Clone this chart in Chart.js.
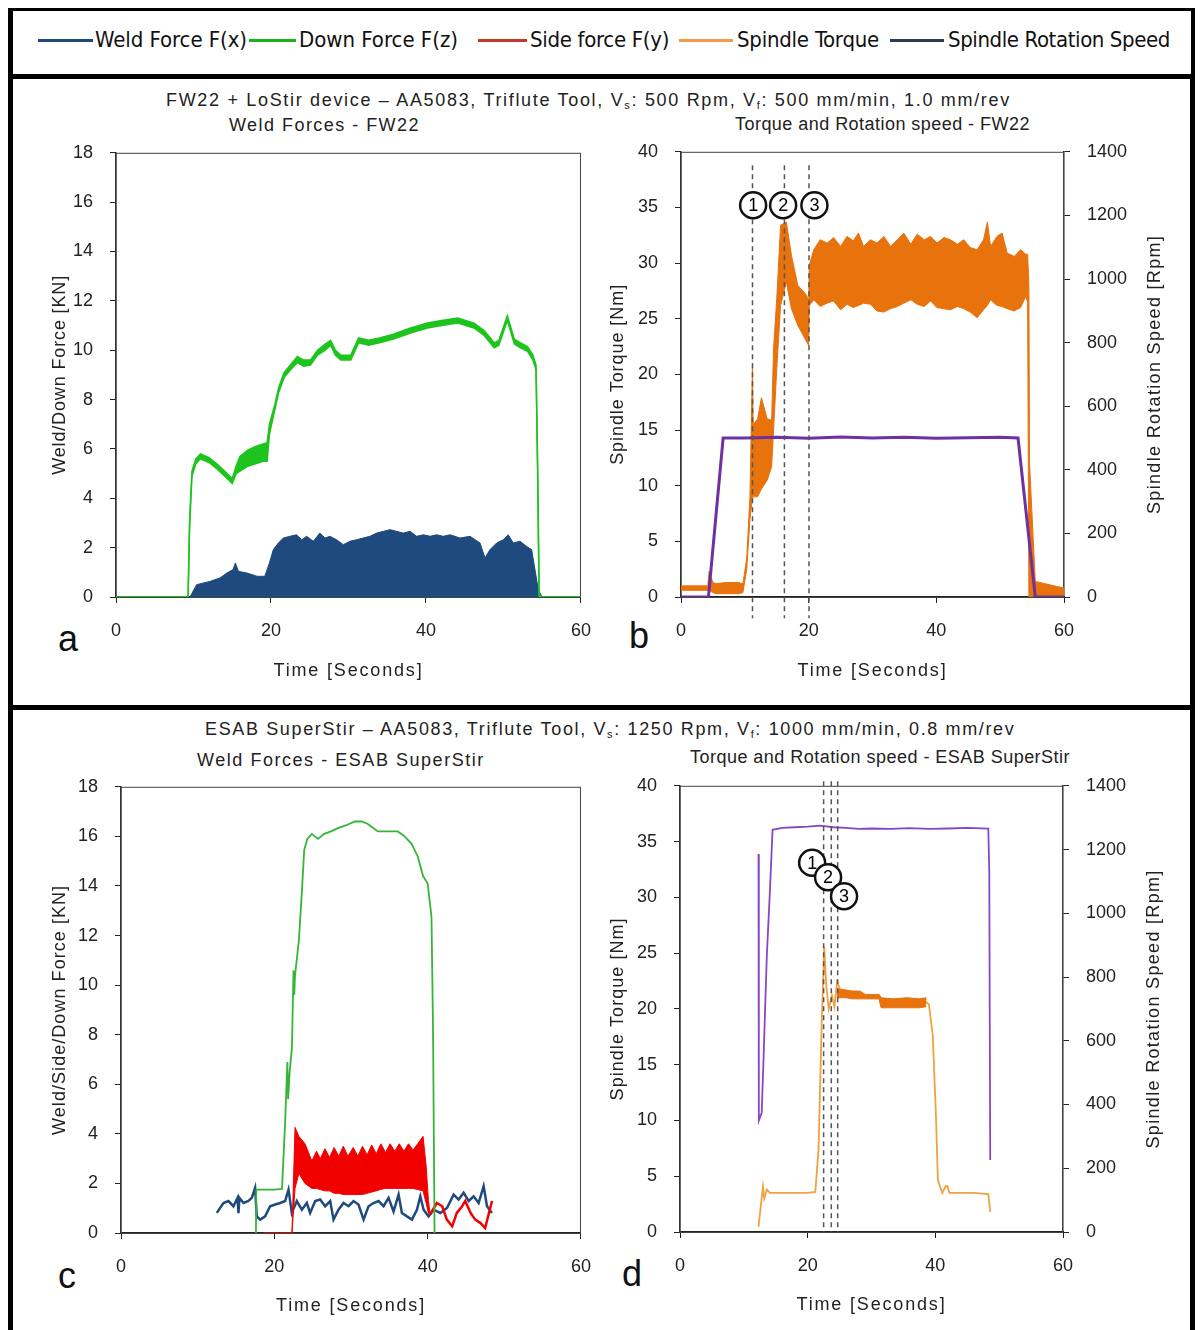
<!DOCTYPE html>
<html>
<head>
<meta charset="utf-8">
<title>Weld forces, torque and rotation speed</title>
<script src="https://cdn.jsdelivr.net/npm/chart.js@4.4.1/dist/chart.umd.min.js"></script>
<style>
  html, body { margin: 0; padding: 0; background: #fff; }
  body { position: relative; width: 1203px; height: 1330px; overflow: hidden;
         font-family: "Liberation Sans", Arial, sans-serif; color: #222; }
  .box { position: absolute; border: 5px solid #000; box-sizing: border-box; }
  .txt { position: absolute; white-space: nowrap; line-height: 1; }
  .ttl { font-size: 18px; }
  .tag { font-size: 36px; color: #111; }
  .lg { position: absolute; white-space: nowrap; line-height: 1; font-size: 22px; color: #111;
        font-family: "Liberation Sans Narrow", "DejaVu Sans Condensed", "Liberation Sans", sans-serif; }
  .sw { position: absolute; height: 3px; }
  sub { font-size: 11px; vertical-align: -3px; line-height: 0; }
  canvas { position: absolute; }
</style>
</head>
<body>
<div class="box" style="left:8px;top:8px;width:1187px;height:70px;border-width:3px 4px 4px 5px"></div>
<div class="box" style="left:8px;top:74px;width:1187px;height:636px"></div>
<div class="box" style="left:8px;top:705px;width:1187px;height:700px"></div>

<div class="txt ttl" data-x="166" data-cy="100" data-w="845">FW22 + LoStir device – AA5083, Triflute Tool, V<sub>s</sub>: 500 Rpm, V<sub>f</sub>: 500 mm/min, 1.0 mm/rev</div>
<div class="txt ttl" data-x="229" data-cy="125" data-w="191">Weld Forces - FW22</div>
<div class="txt ttl" data-x="735" data-cy="124" data-w="295">Torque and Rotation speed - FW22</div>
<div class="txt ttl" data-x="205" data-cy="729" data-w="810">ESAB SuperStir – AA5083, Triflute Tool, V<sub>s</sub>: 1250 Rpm, V<sub>f</sub>: 1000 mm/min, 0.8 mm/rev</div>
<div class="txt ttl" data-x="197" data-cy="760" data-w="288">Weld Forces - ESAB SuperStir</div>
<div class="txt ttl" data-x="690" data-cy="757" data-w="380">Torque and Rotation speed - ESAB SuperStir</div>
<div class="txt tag" data-x="58" data-cy="639">a</div>
<div class="txt tag" data-x="629" data-cy="636">b</div>
<div class="txt tag" data-x="58" data-cy="1276">c</div>
<div class="txt tag" data-x="622" data-cy="1274">d</div>

<canvas id="cA"></canvas>
<canvas id="cB"></canvas>
<canvas id="cC"></canvas>
<canvas id="cD"></canvas>

<script>
// ---------------- values ----------------
const xTicks = [0, 20, 40, 60];
const forceTicks = [0, 2, 4, 6, 8, 10, 12, 14, 16, 18];
const torqueTicks = [0, 5, 10, 15, 20, 25, 30, 35, 40];
const rpmTicks = [0, 200, 400, 600, 800, 1000, 1200, 1400];

const legendLabels = ['Weld Force F(x)', 'Down Force F(z)', 'Side force F(y)', 'Spindle Torque', 'Spindle Rotation Speed'];

// (a) FW22 forces [kN] vs time [s]
const fwTime   = [0, 9.3, 9.5, 9.8, 10.3, 10.9, 12.0, 13.0, 14.0, 15.0, 15.5, 16.0, 17.0, 18.0, 19.0, 19.5, 19.8, 20.5, 21.0, 21.7, 22.5, 23.4, 24.2, 25.1, 26.0, 27.0, 27.7, 28.3, 29.0, 30.3, 31.3, 32.6, 34.0, 35.8, 38.0, 40.2, 42.0, 44.1, 46.2, 47.5, 48.8, 49.4, 50.5, 51.4, 52.2, 53.1, 53.8, 54.2, 54.4, 54.6, 55.0, 60];
const fwDownLo = [0, 0, 2.9, 4.9, 5.4, 5.6, 5.45, 5.2, 4.9, 4.6, 5.0, 5.1, 5.3, 5.4, 5.5, 5.5, 6.6, 7.6, 8.3, 8.9, 9.2, 9.5, 9.35, 9.4, 9.8, 10.0, 10.2, 9.8, 9.6, 9.6, 10.3, 10.2, 10.3, 10.45, 10.7, 10.9, 11.0, 11.1, 10.9, 10.6, 10.1, 10.2, 11.2, 10.25, 10.1, 9.95, 9.6, 9.2, 5.2, 0, 0, 0];
const fwDownHi = [0, 0, 3.1, 5.1, 5.6, 5.8, 5.65, 5.4, 5.1, 4.8, 5.3, 5.7, 5.95, 6.1, 6.2, 6.25, 7.0, 7.8, 8.5, 9.1, 9.4, 9.75, 9.6, 9.6, 10.0, 10.25, 10.4, 10.0, 9.8, 9.8, 10.5, 10.4, 10.5, 10.65, 10.9, 11.1, 11.2, 11.3, 11.1, 10.8, 10.3, 10.4, 11.4, 10.45, 10.3, 10.15, 9.8, 9.4, 5.4, 0.1, 0, 0];
const fwWeldTime = [9.55, 10.4, 12.1, 13.4, 14.3, 15.1, 15.4, 15.8, 16.9, 18.2, 19.2, 19.8, 20.3, 20.95, 21.6, 22.45, 23.3, 23.96, 24.6, 25.46, 26.3, 26.97, 27.6, 28.47, 29.33, 30.2, 31.05, 31.9, 32.77, 33.63, 34.5, 35.35, 36.2, 37.08, 37.94, 38.8, 39.66, 40.52, 41.38, 42.24, 43.1, 44.39, 45.68, 46.97, 47.61, 48.26, 49.12, 49.98, 50.62, 51.27, 52.13, 52.99, 53.63, 54.06, 54.49, 54.92];
const fwWeld     = [0, 0.5, 0.63, 0.77, 0.97, 1.11, 1.38, 1.04, 0.97, 0.84, 0.84, 1.38, 1.92, 2.19, 2.39, 2.46, 2.52, 2.32, 2.46, 2.26, 2.59, 2.39, 2.46, 2.32, 2.12, 2.26, 2.32, 2.39, 2.46, 2.59, 2.66, 2.73, 2.66, 2.59, 2.66, 2.46, 2.52, 2.46, 2.52, 2.46, 2.52, 2.39, 2.46, 2.19, 1.58, 1.92, 2.19, 2.32, 2.52, 2.19, 2.26, 2.05, 1.92, 1.11, 0.30, 0.03];

// (b) FW22 torque [Nm] band and rotation speed [rpm]
const fwTqTime = [0, 4.2, 4.4, 5.0, 5.5, 7.0, 9.0, 9.7, 10.3, 10.8, 11.2, 11.3, 12.0, 12.6, 13.5, 14.2, 14.5, 15.0, 15.6, 16.5, 17.3, 18.3, 19.7, 20.0, 20.1, 20.8, 21.8, 22.9, 23.9, 25.0, 26.0, 27.0, 27.8, 28.6, 29.7, 30.7, 31.8, 32.8, 33.9, 34.9, 36.0, 37.0, 38.1, 39.1, 40.1, 41.2, 42.2, 43.3, 44.3, 45.3, 46.4, 47.4, 48.0, 48.5, 49.5, 50.3, 51.1, 52.2, 53.2, 54.0, 54.3, 54.5, 54.6, 55.5, 57.0, 60];
const fwTqLo   = [0.6, 0.6, 0.6, 0.4, 0.3, 0.3, 0.3, 0.4, 2.5, 7.0, 9.0, 9.0, 9.0, 9.7, 10.5, 11.7, 15.0, 20.5, 26.2, 28.3, 25.9, 24.4, 22.9, 22.6, 26.2, 26.7, 26.1, 26.4, 26.6, 25.8, 26.3, 26.0, 26.2, 26.4, 26.3, 25.7, 25.6, 25.9, 26.1, 26.4, 26.7, 26.3, 26.1, 26.6, 26.0, 25.9, 25.8, 26.1, 25.9, 25.6, 25.1, 25.8, 26.2, 26.7, 26.2, 26.1, 25.9, 25.7, 26.0, 27.0, 26.5, 0, 0, 0.1, 0.1, 0.1];
const fwTqHi   = [1.0, 1.0, 2.3, 1.3, 1.2, 1.3, 1.3, 1.2, 3.5, 9.0, 21.0, 15.5, 16.0, 17.9, 16.0, 15.9, 22.3, 26.8, 33.4, 33.7, 30.7, 28.0, 27.1, 26.5, 29.8, 31.2, 32.1, 31.8, 32.3, 31.5, 32.4, 32.0, 32.7, 31.5, 32.1, 31.8, 32.4, 31.5, 32.1, 32.7, 31.7, 32.6, 32.1, 32.4, 31.8, 32.3, 32.1, 31.7, 32.1, 31.4, 31.2, 32.1, 33.7, 31.5, 32.4, 32.7, 30.9, 30.6, 31.2, 30.8, 30.8, 28.0, 12.0, 1.4, 1.2, 0.8];
const fwRpmTime = [0, 4.3, 6.6, 10, 15, 20, 25, 30, 35, 40, 45, 50, 52.8, 55.5, 60];
const fwRpm     = [0, 0, 500, 500, 502, 499, 503, 500, 502, 499, 501, 502, 500, 0, 0];
const fwMarks   = [11.2, 16.2, 20.05];           // dashed stage lines [s]
const fwCircleT = [11.3, 16.0, 20.9];
const fwCircleY = [35.2, 35.2, 35.2];
const stageLabels = ['1', '2', '3'];

// (c) ESAB SuperStir forces [kN]
const esDownTime = [17.6, 17.65, 18, 19, 20, 21.0, 21.4, 21.7, 21.8, 22.0, 22.3, 22.5, 22.6, 22.7, 23.2, 23.6, 23.9, 24.3, 24.9, 25.7, 26.5, 27.4, 28.3, 29.4, 30.5, 31.4, 32.2, 33.5, 34.8, 36.1, 37.0, 37.9, 38.7, 39.4, 40.0, 40.5, 40.7, 40.9];
const esDown     = [0, 1.75, 1.75, 1.75, 1.75, 1.78, 4.4, 6.9, 5.4, 6.5, 7.5, 10.6, 9.6, 10.4, 11.8, 13.8, 15.45, 15.9, 16.1, 15.9, 16.1, 16.2, 16.33, 16.45, 16.6, 16.6, 16.5, 16.2, 16.2, 16.2, 16.0, 15.7, 15.2, 14.4, 14.1, 12.75, 8.2, 0];
const esSideTime = [18.6, 22.3, 22.7, 23.2, 24.0, 24.9, 25.5, 26.0, 26.6, 27.2, 27.8, 28.4, 29.0, 29.6, 30.3, 30.9, 31.5, 32.1, 32.7, 33.3, 33.9, 34.5, 35.1, 35.7, 36.3, 36.9, 37.5, 38.1, 38.7, 39.4, 39.8, 40.1, 40.3];
const esSideLo   = [0, 0, 1.8, 2.4, 2.0, 1.8, 1.8, 1.75, 1.7, 1.7, 1.6, 1.6, 1.55, 1.55, 1.55, 1.55, 1.55, 1.6, 1.65, 1.7, 1.76, 1.8, 1.8, 1.8, 1.8, 1.8, 1.8, 1.8, 1.75, 1.7, 1.2, 0.8, 0.74];
const esSideHi   = [0, 0, 4.26, 3.9, 3.6, 2.9, 3.3, 3.0, 3.4, 3.05, 3.45, 3.1, 3.5, 3.1, 3.45, 3.1, 3.5, 3.15, 3.55, 3.2, 3.6, 3.25, 3.6, 3.3, 3.6, 3.3, 3.6, 3.35, 3.6, 3.9, 2.7, 1.3, 0.8];
const esSideTailTime = [40.3, 41.2, 41.9, 42.5, 43.2, 43.8, 44.5, 44.9, 45.6, 46.2, 46.9, 47.5, 48.0, 48.4];
const esSideTail     = [0.74, 1.21, 1.08, 0.54, 0.27, 0.81, 1.08, 1.29, 0.81, 0.54, 0.4, 0.2, 0.81, 1.29];
const esWeldTime = [12.49, 13.36, 14.01, 14.67, 15.2, 15.32, 15.45, 15.97, 16.62, 17.06, 17.49, 17.71, 18.15, 18.8, 19.45, 20.11, 20.76, 21.41, 21.85, 22.28, 22.93, 23.59, 24.24, 24.67, 25.33, 25.98, 26.63, 27.29, 27.72, 28.37, 29.03, 29.68, 30.33, 30.98, 31.64, 32.29, 32.94, 33.6, 34.25, 34.9, 35.55, 36.21, 36.64, 37.3, 37.95, 38.6, 39.04, 39.47, 40.12, 40.78, 41.65, 42.52, 43.39, 44.04, 44.69, 45.35, 46.0, 46.65, 47.3, 47.74, 48.39];
const esWeld     = [0.81, 1.21, 1.29, 1.08, 1.42, 0.8, 1.42, 1.21, 1.29, 1.42, 1.82, 0.67, 0.54, 0.67, 1.08, 1.15, 1.21, 1.29, 1.75, 0.81, 1.29, 0.94, 1.21, 0.81, 1.29, 1.35, 1.08, 1.29, 0.54, 0.94, 1.21, 1.08, 1.29, 1.15, 0.54, 1.08, 1.21, 1.29, 1.08, 1.42, 0.87, 1.55, 0.81, 0.67, 0.54, 0.94, 1.48, 0.94, 0.67, 0.94, 0.81, 1.01, 1.55, 1.35, 1.62, 1.29, 1.48, 1.21, 1.89, 1.08, 0.81];

// (d) ESAB SuperStir torque [Nm] and rotation speed [rpm]
const esRpmTime = [12.3, 12.35, 12.8, 13.1, 13.6, 14.1, 14.5, 16, 18, 20, 22, 24, 26, 28, 30, 33, 36, 39, 42, 45, 48.3, 48.45, 48.6];
const esRpm     = [1186, 350, 374, 551, 866, 1076, 1262, 1268, 1270, 1272, 1275, 1270, 1268, 1265, 1266, 1265, 1267, 1265, 1266, 1268, 1266, 1129, 226];
const esTqTime = [12.3, 13.0, 13.2, 13.6, 14.1, 16, 18, 20, 21.2, 21.7, 22.2, 22.6, 22.9, 23.3, 23.8, 24.2, 24.6, 25.2, 26.2, 27, 28, 29, 30, 31.3, 31.4, 33, 35, 37, 38.6, 39.0, 39.6, 40.1, 40.4, 40.6, 41.1, 41.6, 41.9, 42.2, 44, 46, 48.3, 48.6];
const esTq     = [0.48, 4.07, 3.0, 3.8, 3.5, 3.5, 3.5, 3.5, 3.6, 7.4, 18.8, 25.6, 22.2, 20.0, 21.2, 20.2, 22.4, 21.6, 21.4, 21.2, 21.0, 21.1, 21.0, 21.0, 20.5, 20.5, 20.4, 20.6, 20.6, 20.4, 17.6, 10.4, 4.7, 4.3, 3.5, 4.1, 4.1, 3.5, 3.5, 3.5, 3.4, 1.8];
const esTqBandTime = [24.6, 26.0, 27.0, 28.2, 29.0, 31.2, 31.5, 33.5, 35.5, 37.5, 38.6];
const esTqBandLo   = [21.0, 21.0, 20.9, 20.9, 20.9, 20.9, 20.1, 20.1, 20.1, 20.1, 20.2];
const esTqBandHi   = [21.8, 21.7, 21.6, 21.6, 21.3, 21.3, 21.0, 20.9, 21.0, 20.9, 21.0];
const esMarks   = [22.5, 23.7, 24.7];
const esCircleT = [20.7, 23.2, 25.7];
const esCircleY = [33.1, 31.8, 30.1];

// ---------------- styling ----------------
const FONT = '"Liberation Sans", Arial, sans-serif';
const INK = '#222';
const NAVY = '#1F4A7E', GREEN = '#1EC41E', GREEN2 = '#35B535', RED = '#F20000';
const ORANGE = '#E8720C', ORANGE2 = '#F2A040', PURPLE = '#7030A0', PURPLE2 = '#8845C4';
const legendColors = ['#1F497D', '#1DB31D', '#C0392B', '#F39A4C', '#2D3A55'];
const legendPos = [[38, 93, 95, 152], [249, 296, 299, 159], [478, 527, 530, 139], [679, 733, 737, 142], [890, 944, 948, 222]];

// plot rectangles on the page [left, right, top, bottom]
const plotBox = { cA: [116, 581, 153, 597], cB: [681, 1064, 152, 597], cC: [121, 581, 787, 1233], cD: [680, 1063, 786, 1232] };
// axis titles: [text, offset from plot edge, drawn length]
const axisTitles = {
  cA: { left: ['Weld/Down Force [KN]', 56, 200], bottom: ['Time [Seconds]', 74, 150] },
  cB: { left: ['Spindle Torque [Nm]', 63, 181], right: ['Spindle Rotation Speed [Rpm]', 91, 279], bottom: ['Time [Seconds]', 74, 150] },
  cC: { left: ['Weld/Side/Down Force [KN]', 61, 250], bottom: ['Time [Seconds]', 73, 150] },
  cD: { left: ['Spindle Torque [Nm]', 62, 183], right: ['Spindle Rotation Speed [Rpm]', 91, 279], bottom: ['Time [Seconds]', 73, 150] }
};

// ---------------- plugins ----------------
const frame = {
  id: 'frame',
  beforeDatasetsDraw(chart) {
    const { ctx, chartArea: a } = chart;
    ctx.save();
    ctx.strokeStyle = '#444';
    ctx.lineWidth = 1;
    ctx.strokeRect(a.left, a.top + 0.5, a.right - a.left - 0.5, a.bottom - a.top);
    ctx.restore();
  }
};

const stageNumbers = {
  id: 'stageNumbers',
  afterDatasetsDraw(chart) {
    const ctx = chart.ctx;
    chart.data.datasets.forEach((ds, i) => {
      if (!ds.stageText) return;
      ctx.save();
      ctx.font = '18px ' + FONT;
      ctx.fillStyle = '#000';
      ctx.textAlign = 'center';
      ctx.textBaseline = 'middle';
      chart.getDatasetMeta(i).data.forEach((p, j) => ctx.fillText(ds.stageText[j], p.x, p.y + 1));
      ctx.restore();
    });
  }
};

const axisText = {
  id: 'axisText',
  afterDraw(chart) {
    const spec = axisTitles[chart.canvas.id];
    if (!spec) return;
    const { ctx, chartArea: a } = chart;
    const put = (item, x, y, rot) => {
      const [text, , width] = item;
      ctx.save();
      ctx.font = '18px ' + FONT;
      ctx.fillStyle = INK;
      ctx.textAlign = 'center';
      ctx.textBaseline = 'middle';
      ctx.letterSpacing = '0px';
      const w0 = ctx.measureText(text).width;
      ctx.letterSpacing = ((width - w0) / text.length).toFixed(2) + 'px';
      ctx.translate(x, y);
      if (rot) ctx.rotate(-Math.PI / 2);
      ctx.fillText(text, 0, 0);
      ctx.restore();
    };
    const midY = (a.top + a.bottom) / 2;
    if (spec.left) put(spec.left, a.left - spec.left[1], midY, true);
    if (spec.right) put(spec.right, a.right + spec.right[1], midY, true);
    if (spec.bottom) put(spec.bottom, (a.left + a.right) / 2, a.bottom + spec.bottom[1], false);
  }
};

Chart.register(frame, stageNumbers, axisText);

// ---------------- helpers ----------------
const pts = (t, v) => t.map((x, i) => ({ x: x, y: v[i] }));
function dashPts(ts, top, bottom) {
  const out = [];
  ts.forEach(t => out.push({ x: t, y: top }, { x: t, y: bottom }, { x: t, y: null }));
  return out;
}
function line(data, color, width, extra) {
  return Object.assign({ data: data, borderColor: color, backgroundColor: color, borderWidth: width,
    pointRadius: 0, fill: false, tension: 0 }, extra || {});
}
function circles(t, y) {
  return line(pts(t, y), '#000', 2, { showLine: false, pointRadius: 13, pointBackgroundColor: '#fff',
    pointBorderColor: '#111', pointBorderWidth: 2.5, clip: false, stageText: stageLabels });
}
function dashes(ts, top, bottom) {
  return line(dashPts(ts, top, bottom), '#555', 1.5, { borderDash: [5, 4], clip: false, spanGaps: false });
}
function xAxis(h) {
  return {
    type: 'linear', position: 'bottom', min: xTicks[0], max: xTicks[xTicks.length - 1],
    ticks: { stepSize: xTicks[1] - xTicks[0], padding: 17, color: INK, font: { size: 18, family: FONT } },
    grid: { drawOnChartArea: false, drawTicks: true, tickLength: 6, color: INK },
    border: { color: INK, width: 1.5 },
    afterFit: s => { s.height = h; }
  };
}
function yAxis(ticks, pos, w) {
  return {
    type: 'linear', position: pos, min: ticks[0], max: ticks[ticks.length - 1],
    ticks: { stepSize: ticks[1] - ticks[0], padding: 17, color: INK, font: { size: 18, family: FONT },
             callback: v => String(v) },
    grid: { drawOnChartArea: false, drawTicks: true, tickLength: 6, color: INK },
    border: { color: INK, width: 1.5 },
    afterFit: s => { s.width = w; }
  };
}
function options(scales) {
  return {
    responsive: false, animation: false, devicePixelRatio: 1, events: [],
    layout: { padding: 0 },
    scales: scales,
    plugins: { legend: { display: false }, tooltip: { enabled: false } }
  };
}

// ---------------- charts ----------------
const configs = {
  cA: () => ({
    type: 'line',
    data: { datasets: [
      line(pts(fwTime, fwDownLo), GREEN, 1.5),
      line(pts(fwTime, fwDownHi), GREEN, 1.5, { fill: '-1' }),
      line(pts(fwWeldTime, fwWeld), NAVY, 1, { fill: 'origin' })
    ] },
    options: options({ x: xAxis(88), y: yAxis(forceTicks, 'left', 70) })
  }),
  cB: () => ({
    type: 'line',
    data: { datasets: [
      circles(fwCircleT, fwCircleY),
      dashes(fwMarks, 38.8, -1.9),
      line(pts(fwRpmTime, fwRpm), PURPLE, 3, { yAxisID: 'y1' }),
      line(pts(fwTqTime, fwTqLo), ORANGE, 1),
      line(pts(fwTqTime, fwTqHi), ORANGE, 1, { fill: '-1' })
    ] },
    options: options({ x: xAxis(88), y: yAxis(torqueTicks, 'left', 76), y1: yAxis(rpmTicks, 'right', 105) })
  }),
  cC: () => ({
    type: 'line',
    data: { datasets: [
      line(pts(esDownTime, esDown), GREEN2, 1.8),
      line(pts(esSideTailTime, esSideTail), RED, 2.5),
      line(pts(esSideTime, esSideLo), RED, 1),
      line(pts(esSideTime, esSideHi), RED, 1, { fill: '-1' }),
      line(pts(esWeldTime, esWeld), NAVY, 2.5)
    ] },
    options: options({ x: xAxis(88), y: yAxis(forceTicks, 'left', 74) })
  }),
  cD: () => ({
    type: 'line',
    data: { datasets: [
      circles(esCircleT, esCircleY),
      dashes(esMarks, 40.4, 0),
      line(pts(esRpmTime, esRpm), PURPLE2, 1.8, { yAxisID: 'y1' }),
      line(pts(esTqBandTime, esTqBandLo), ORANGE, 1),
      line(pts(esTqBandTime, esTqBandHi), ORANGE, 1, { fill: '-1' }),
      line(pts(esTqTime, esTq), ORANGE2, 1.8)
    ] },
    options: options({ x: xAxis(88), y: yAxis(torqueTicks, 'left', 76), y1: yAxis(rpmTicks, 'right', 105) })
  })
};

// build once to learn the axis insets, then size/place the canvas so the plot area lands on plotBox
function mount(id) {
  const cv = document.getElementById(id);
  const box = plotBox[id];
  cv.width = 700; cv.height = 700;
  let chart = new Chart(cv, configs[id]());
  const a = chart.chartArea;
  const L = a.left, T = a.top, R = cv.width - a.right, B = cv.height - a.bottom;
  chart.destroy();
  cv.width = Math.round(box[1] - box[0] + L + R);
  cv.height = Math.round(box[3] - box[2] + T + B);
  cv.style.left = Math.round(box[0] - L) + 'px';
  cv.style.top = Math.round(box[2] - T) + 'px';
  return new Chart(cv, configs[id]());
}
['cA', 'cB', 'cC', 'cD'].forEach(mount);

// ---------------- legend and titles ----------------
legendLabels.forEach((label, i) => {
  const [s0, s1, tx, tw] = legendPos[i];
  const sw = document.createElement('div');
  sw.className = 'sw';
  sw.style.cssText = `left:${s0}px;width:${s1 - s0}px;top:39px;background:${legendColors[i]}`;
  document.body.appendChild(sw);
  const t = document.createElement('div');
  t.className = 'lg';
  t.textContent = label;
  t.dataset.x = tx; t.dataset.cy = 40; t.dataset.w = tw;
  document.body.appendChild(t);
});

document.querySelectorAll('.txt, .lg').forEach(el => {
  el.style.left = el.dataset.x + 'px';
  if (el.dataset.w) {
    el.style.letterSpacing = '0px';
    const w0 = el.getBoundingClientRect().width;
    el.style.letterSpacing = ((el.dataset.w - w0) / el.textContent.length).toFixed(2) + 'px';
  }
  el.style.top = (el.dataset.cy - el.getBoundingClientRect().height / 2) + 'px';
});
</script>
</body>
</html>
